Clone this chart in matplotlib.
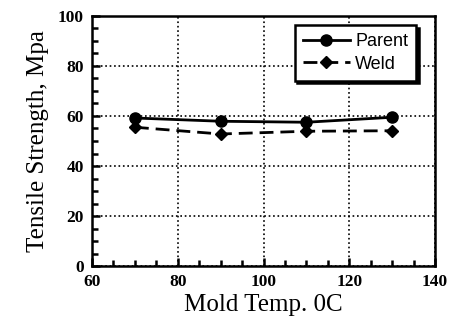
import matplotlib
matplotlib.use("Agg")
import matplotlib.pyplot as plt
from matplotlib.ticker import MultipleLocator

mold_temp = [70, 90, 110, 130]
parent = [59.2, 57.9, 57.5, 59.5]
weld = [55.5, 52.8, 53.9, 54.1]

fig = plt.figure(figsize=(4.51, 3.23), dpi=100)
ax = fig.add_axes([92/451, 1-266/323, (435-92)/451, (266-16)/323])

ax.plot(mold_temp, parent, '-', color='black', lw=2, marker='o', ms=8, label='Parent')
ax.plot(mold_temp, weld, '--', color='black', lw=2, marker='D', ms=6, dashes=(5, 2.5), label='Weld')

ax.set_xlim(60, 140)
ax.set_ylim(0, 100)
ax.xaxis.set_major_locator(MultipleLocator(20))
ax.xaxis.set_minor_locator(MultipleLocator(5))
ax.yaxis.set_major_locator(MultipleLocator(20))
ax.yaxis.set_minor_locator(MultipleLocator(5))
ax.tick_params(which='both', direction='in', top=False, right=False, width=1.8, colors='black')
ax.tick_params(which='major', length=6, labelsize=12.5, pad=6)
ax.tick_params(which='minor', length=4)
for lab in ax.get_xticklabels() + ax.get_yticklabels():
    lab.set_family('Liberation Serif')
    lab.set_weight('bold')
ax.grid(True, which='major', linestyle=':', color='black', lw=1.2)
for s in ax.spines.values():
    s.set_linewidth(1.8)

ax.set_xlabel('Mold Temp. 0C', family='Liberation Serif', fontsize=18, labelpad=3)
ax.set_ylabel('Tensile Strength, Mpa', family='Liberation Serif', fontsize=18, labelpad=6)

leg = ax.legend(loc='upper right', bbox_to_anchor=(0.945, 0.964), borderaxespad=0,
                prop={'family': 'Liberation Sans', 'size': 13},
                fancybox=False, shadow={'color': 'black', 'alpha': 1}, framealpha=1, edgecolor='black',
                handlelength=2.6, handletextpad=0.3, borderpad=0.45, labelspacing=0.3)
leg.get_frame().set_linewidth(1.8)

fig.savefig('out.png', dpi=100)
